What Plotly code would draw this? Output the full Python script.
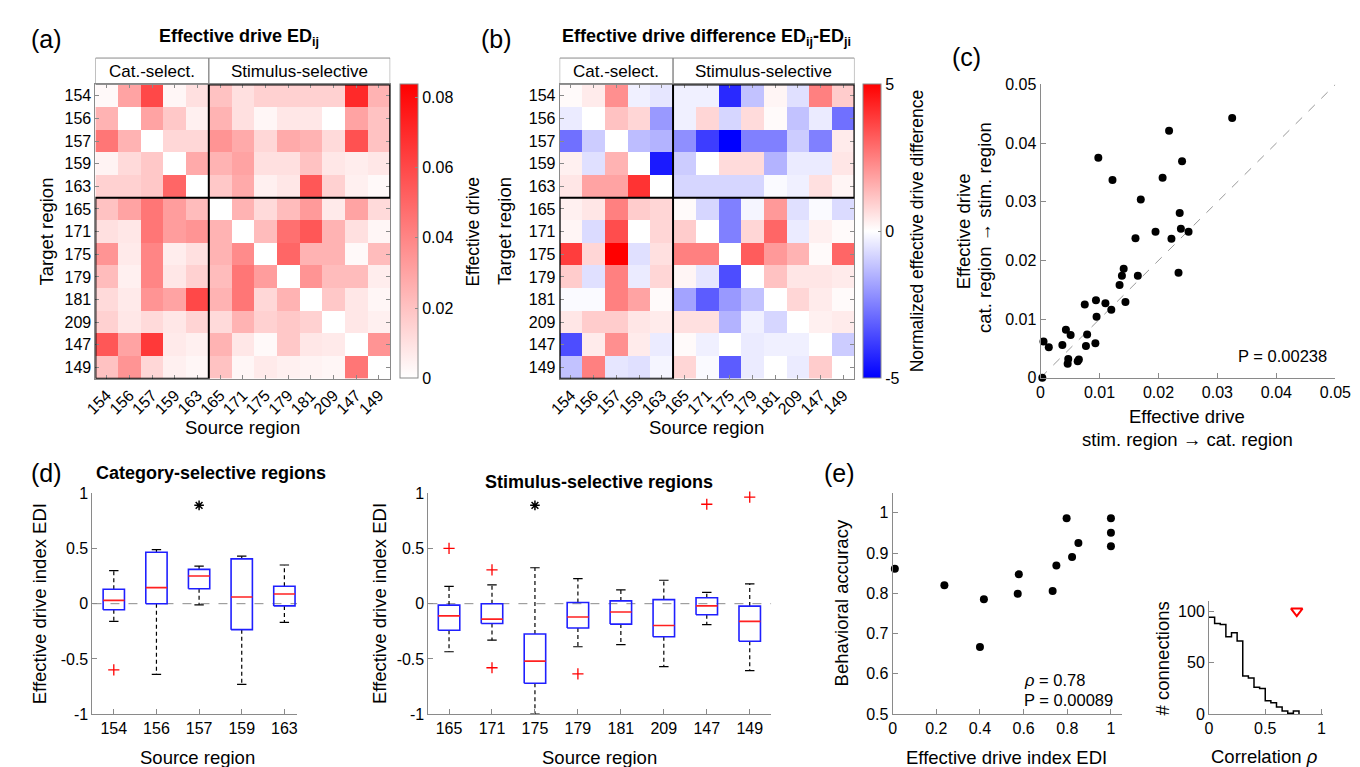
import plotly.graph_objects as go

W, H = 1360, 767
def fx(x): return x / W
def fy(y): return 1 - y / H

FONT = "Liberation Sans, Arial, sans-serif"
AX = "#8a8a8a"

regions = ['154', '156', '157', '159', '163', '165', '171', '175', '179', '181', '209', '147', '149']

# Panel (a): effective drive ED_ij (rows = target, cols = source)
ed = [
    [0.002, 0.030, 0.060, 0.003, 0.010, 0.020, 0.010, 0.015, 0.015, 0.015, 0.015, 0.070, 0.025],
    [0.025, 0.000, 0.030, 0.018, 0.005, 0.025, 0.010, 0.003, 0.008, 0.008, 0.000, 0.030, 0.020],
    [0.045, 0.025, 0.000, 0.013, 0.013, 0.035, 0.028, 0.013, 0.028, 0.025, 0.012, 0.057, 0.020],
    [0.004, 0.012, 0.018, 0.000, 0.028, 0.025, 0.030, 0.010, 0.010, 0.020, 0.008, 0.006, 0.008],
    [0.015, 0.015, 0.018, 0.050, 0.000, 0.018, 0.028, 0.005, 0.008, 0.055, 0.015, 0.005, 0.002],
    [0.020, 0.030, 0.045, 0.032, 0.022, 0.000, 0.025, 0.012, 0.022, 0.033, 0.007, 0.030, 0.012],
    [0.010, 0.008, 0.045, 0.032, 0.035, 0.025, 0.000, 0.022, 0.047, 0.055, 0.025, 0.010, 0.003],
    [0.035, 0.007, 0.040, 0.006, 0.010, 0.025, 0.038, 0.000, 0.050, 0.025, 0.025, 0.002, 0.022],
    [0.022, 0.005, 0.040, 0.008, 0.015, 0.022, 0.045, 0.032, 0.000, 0.035, 0.022, 0.022, 0.006],
    [0.012, 0.007, 0.035, 0.030, 0.060, 0.025, 0.045, 0.013, 0.025, 0.000, 0.018, 0.008, 0.003],
    [0.015, 0.008, 0.012, 0.008, 0.014, 0.012, 0.025, 0.015, 0.018, 0.015, 0.000, 0.008, 0.005],
    [0.055, 0.030, 0.065, 0.007, 0.005, 0.025, 0.008, 0.002, 0.018, 0.008, 0.007, 0.000, 0.035],
    [0.020, 0.035, 0.013, 0.005, 0.003, 0.020, 0.003, 0.007, 0.005, 0.004, 0.003, 0.045, 0.000],
]
ed_max = 0.0836

# Panel (b): normalized effective drive difference
edd = [
    [0.1, 0.4, 2.2, -0.3, -0.5, -0.3, -0.3, -4.2, -1.2, 0.2, -0.6, 2.5, 1.0],
    [-0.4, 0.0, 1.2, 0.8, -2.0, -0.3, 0.8, -0.8, 0.7, 0.1, -1.2, -0.4, -2.8],
    [-2.8, -1.0, 0.0, -1.3, -1.5, -2.2, -3.8, -5.0, -2.5, -2.5, -1.0, -2.5, 0.4],
    [0.3, -0.6, 1.5, 0.0, -4.5, -1.0, 0.0, 0.7, 0.7, -1.5, -0.4, -0.4, 0.5],
    [0.5, 1.8, 1.8, 4.0, 0.0, -0.8, -0.8, -0.8, -0.8, -0.1, -0.3, 0.6, 0.2],
    [0.3, 0.5, 2.5, 1.0, 0.8, 0.1, -0.8, -2.5, -0.2, 2.0, -0.6, -0.1, -0.7],
    [0.2, -0.7, 3.5, 0.0, 0.8, 1.0, 0.0, -2.5, 0.8, 3.0, -0.4, 0.3, 0.1],
    [3.8, 0.8, 5.0, -0.6, 0.6, 2.5, 2.5, 0.0, 3.2, 2.0, 1.5, 0.1, 3.0],
    [1.0, -0.6, 2.5, -0.4, 0.8, 0.2, -0.5, -3.5, 0.0, 1.2, 0.5, 0.5, 0.4],
    [-0.1, -0.1, 2.5, 1.8, 0.1, -1.8, -3.2, -2.0, -1.2, 0.0, 0.8, 0.4, 0.1],
    [0.5, 1.0, 1.0, 0.5, 0.4, 0.6, 0.6, -1.5, -0.3, -0.8, 0.0, 0.3, 0.4],
    [-3.5, 0.4, 2.2, 0.4, -0.4, 0.1, -0.3, 0.0, -0.4, -0.3, -0.3, 0.0, -1.0],
    [-1.2, 2.5, -0.5, -0.6, -0.2, 0.8, -0.1, -3.2, -0.4, 0.0, -0.4, 1.0, 0.0],
]

# Panel (c)
c_x = [0.0003, 0.0005, 0.0014, 0.0037, 0.0043, 0.0051, 0.0047, 0.0046, 0.0063, 0.0065,
       0.0075, 0.0079, 0.0077, 0.0093, 0.0094, 0.0095, 0.0098, 0.0110, 0.0120, 0.0122,
       0.0134, 0.0138, 0.0141, 0.0144, 0.0161, 0.0165, 0.0170, 0.0195, 0.0207, 0.0218,
       0.0222, 0.0234, 0.0236, 0.0238, 0.0240, 0.0251, 0.0325]
c_y = [0.0000, 0.0062, 0.0052, 0.0056, 0.0082, 0.0073, 0.0032, 0.0024, 0.0028, 0.0031,
       0.0125, 0.0074, 0.0054, 0.0059, 0.0132, 0.0104, 0.0375, 0.0127, 0.0116, 0.0337,
       0.0158, 0.0174, 0.0186, 0.0129, 0.0238, 0.0174, 0.0304, 0.0249, 0.0341, 0.0421,
       0.0237, 0.0179, 0.0281, 0.0254, 0.0369, 0.0249, 0.0443]

# Panel (d) left: category-selective
cat_regions = ['154', '156', '157', '159', '163']
cat_whi = [0.30, 0.49, 0.34, 0.43, 0.35]
cat_q3 = [0.13, 0.465, 0.31, 0.405, 0.158]
cat_med = [0.03, 0.145, 0.25, 0.06, 0.087]
cat_q1 = [-0.055, 0.0, 0.135, -0.235, -0.02]
cat_wlo = [-0.16, -0.64, -0.01, -0.73, -0.17]
cat_out_idx = [0]
cat_out_val = [-0.60]
cat_star_idx = [2]

# Panel (d) right: stimulus-selective
stim_regions = ['165', '171', '175', '179', '181', '209', '147', '149']
stim_whi = [0.157, 0.17, 0.325, 0.227, 0.124, 0.212, 0.103, 0.18]
stim_q3 = [-0.013, 0.0, -0.275, 0.01, 0.025, 0.037, 0.053, -0.022]
stim_med = [-0.11, -0.14, -0.52, -0.12, -0.075, -0.197, -0.02, -0.16]
stim_q1 = [-0.24, -0.18, -0.72, -0.22, -0.185, -0.30, -0.10, -0.34]
stim_wlo = [-0.435, -0.33, -1.0, -0.39, -0.37, -0.57, -0.19, -0.605]
stim_out_idx = [0, 1, 1, 3, 6, 7]
stim_out_val = [0.50, 0.306, -0.58, -0.635, 0.90, 0.965]
stim_star_idx = [2]
star_y = 0.89

# Panel (e)
e_x = [0.01, 0.237, 0.40, 0.418, 0.573, 0.578, 0.733, 0.75, 0.797, 0.822, 0.851, 1.0, 1.0, 1.0]
e_y = [0.861, 0.820, 0.667, 0.785, 0.799, 0.847, 0.806, 0.869, 0.986, 0.890, 0.925, 0.986, 0.950, 0.917]

# Inset histogram
hist_edges = [0.0, 0.05, 0.10, 0.15, 0.20, 0.25, 0.30, 0.35, 0.40, 0.45, 0.50, 0.55, 0.60, 0.65, 0.70, 0.75, 0.80]
hist_counts = [94, 88, 87, 75, 79, 71, 37, 35, 26, 25, 13, 11, 7, 3, 1, 3]
rho_obs = 0.78
rho_marker_y = 100

fig = go.Figure()

# ---------- heatmaps ----------
idx = list(range(len(regions)))
cbfont = dict(size=16, family=FONT, color='black')
fig.add_trace(go.Heatmap(
    z=ed, x=idx, y=idx, xaxis='x', yaxis='y', zmin=0, zmax=ed_max,
    colorscale=[[0, 'rgb(255,255,255)'], [1, 'rgb(255,0,0)']],
    colorbar=dict(x=fx(388), xanchor='left', y=fy(70), yanchor='top', len=301 / H, lenmode='fraction',
                  thickness=18, xpad=0, ypad=0, outlinewidth=1, outlinecolor=AX,
                  tickvals=[0, 0.02, 0.04, 0.06, 0.08], ticktext=['0', '0.02', '0.04', '0.06', '0.08'],
                  ticks='inside', ticklen=3, tickcolor=AX, tickfont=cbfont),
    hoverinfo='skip'))
fig.add_trace(go.Heatmap(
    z=edd, x=idx, y=idx, xaxis='x2', yaxis='y2', zmin=-5, zmax=5,
    colorscale=[[0, 'rgb(0,0,255)'], [0.5, 'rgb(255,255,255)'], [1, 'rgb(255,0,0)']],
    colorbar=dict(x=fx(861), xanchor='left', y=fy(70), yanchor='top', len=301 / H, lenmode='fraction',
                  thickness=18, xpad=0, ypad=0, outlinewidth=1, outlinecolor=AX,
                  tickvals=[-5, 0, 5], ticktext=['-5', '0', '5'],
                  ticks='inside', ticklen=3, tickcolor=AX, tickfont=cbfont),
    hoverinfo='skip'))

# ---------- scatter (c) ----------
fig.add_trace(go.Scatter(x=[0, 0.05], y=[0, 0.05], xaxis='x3', yaxis='y3', mode='lines',
                         line=dict(color='#999999', width=1, dash='dash'), hoverinfo='skip'))
fig.add_trace(go.Scatter(x=c_x, y=c_y, xaxis='x3', yaxis='y3', mode='markers',
                         marker=dict(color='black', size=8), cliponaxis=False))

# ---------- box plots (d) ----------
def add_boxes(xa, ya, whi, q3, med, q1, wlo, out_idx, out_val, star_idx, hw=0.25, cw=0.11):
    n = len(med)
    bx, by, mx, my, wx, wy, cx, cy = [], [], [], [], [], [], [], []
    for i in range(n):
        bx += [i - hw, i + hw, i + hw, i - hw, i - hw, None]
        by += [q1[i], q1[i], q3[i], q3[i], q1[i], None]
        mx += [i - hw, i + hw, None]
        my += [med[i], med[i], None]
        wx += [i, i, None, i, i, None]
        wy += [q3[i], whi[i], None, q1[i], wlo[i], None]
        cx += [i - cw, i + cw, None, i - cw, i + cw, None]
        cy += [whi[i], whi[i], None, wlo[i], wlo[i], None]
    fig.add_trace(go.Scatter(x=wx, y=wy, xaxis=xa, yaxis=ya, mode='lines',
                             line=dict(color='black', width=1.2, dash='4px,3px'), cliponaxis=False))
    fig.add_trace(go.Scatter(x=cx, y=cy, xaxis=xa, yaxis=ya, mode='lines',
                             line=dict(color='black', width=1.2), cliponaxis=False))
    fig.add_trace(go.Scatter(x=bx, y=by, xaxis=xa, yaxis=ya, mode='lines',
                             line=dict(color='#1f1fff', width=1.6), cliponaxis=False))
    fig.add_trace(go.Scatter(x=mx, y=my, xaxis=xa, yaxis=ya, mode='lines',
                             line=dict(color='#ff2020', width=1.6), cliponaxis=False))
    fig.add_trace(go.Scatter(x=out_idx, y=out_val, xaxis=xa, yaxis=ya, mode='markers',
                             marker=dict(symbol='cross-thin', size=8, color='red',
                                         line=dict(color='red', width=1.3)),
                             cliponaxis=False))
    fig.add_trace(go.Scatter(x=star_idx, y=[star_y] * len(star_idx), xaxis=xa, yaxis=ya, mode='markers',
                             marker=dict(symbol='asterisk', size=8, color='black',
                                         line=dict(color='black', width=1.5)),
                             cliponaxis=False))

add_boxes('x4', 'y4', cat_whi, cat_q3, cat_med, cat_q1, cat_wlo, cat_out_idx, cat_out_val, cat_star_idx)
add_boxes('x5', 'y5', stim_whi, stim_q3, stim_med, stim_q1, stim_wlo, stim_out_idx, stim_out_val, stim_star_idx)

# ---------- scatter (e) ----------
fig.add_trace(go.Scatter(x=e_x, y=e_y, xaxis='x6', yaxis='y6', mode='markers',
                         marker=dict(color='black', size=8), cliponaxis=False))

# ---------- histogram inset ----------
fig.add_trace(go.Scatter(x=hist_edges, y=hist_counts + [0], xaxis='x7', yaxis='y7', mode='lines',
                         line=dict(color='black', width=1.5, shape='hv'), cliponaxis=False))
fig.add_trace(go.Scatter(x=[rho_obs], y=[rho_marker_y], xaxis='x7', yaxis='y7', mode='markers',
                         marker=dict(symbol='triangle-down-open', size=10, color='red',
                                     line=dict(color='red', width=2)),
                         cliponaxis=False))

# ---------- axes ----------
tickfont = dict(size=16, family=FONT, color='black')
hm_tickfont = dict(size=16, family=FONT, color='black')

def hm_axes(x0, x1):
    xa = dict(domain=[fx(x0), fx(x1)], range=[-0.5, 12.5], tickvals=idx, ticktext=regions, tickangle=-45,
              showline=True, linecolor=AX, linewidth=1, mirror='ticks', ticks='inside', ticklen=4,
              tickcolor=AX, tickfont=hm_tickfont, showgrid=False, zeroline=False, fixedrange=True)
    ya = dict(domain=[fy(371), fy(70)], range=[12.5, -0.5], tickvals=idx, ticktext=regions,
              showline=True, linecolor=AX, linewidth=1, mirror='ticks', ticks='inside', ticklen=4,
              tickcolor=AX, tickfont=hm_tickfont, showgrid=False, zeroline=False, fixedrange=True)
    return xa, ya

xa1, ya1 = hm_axes(77, 378)
xa2, ya2 = hm_axes(551, 852)
ya1['anchor'] = 'x'; xa1['anchor'] = 'y'
ya2['anchor'] = 'x2'; xa2['anchor'] = 'y2'

def plain_axis(dom, rng, tv, tt, anchor, tf=tickfont):
    d = dict(domain=dom, range=rng, tickvals=tv, ticktext=tt, showline=True, linecolor=AX, linewidth=1,
             ticks='inside', ticklen=5, tickcolor=AX, tickfont=tf, showgrid=False, zeroline=False,
             anchor=anchor, fixedrange=True)
    return d

c_ticks = [0, 0.01, 0.02, 0.03, 0.04, 0.05]
c_tt = ['0', '0.01', '0.02', '0.03', '0.04', '0.05']
box_yt = [-1, -0.5, 0, 0.5, 1]
box_ytt = ['-1', '-0.5', '0', '0.5', '1']

fig.update_layout(
    xaxis=xa1, yaxis=ya1, xaxis2=xa2, yaxis2=ya2,
    xaxis3=plain_axis([fx(1042), fx(1343)], [0, 0.05], c_ticks, c_tt, 'y3'),
    yaxis3=plain_axis([fy(370), fy(70)], [0, 0.05], c_ticks, c_tt, 'x3'),
    xaxis4=plain_axis([fx(74), fx(283)], [-0.5, 4.3], list(range(len(cat_regions))), cat_regions, 'y4'),
    yaxis4=plain_axis([fy(714), fy(488)], [-1, 1], box_yt, box_ytt, 'x4'),
    xaxis5=plain_axis([fx(417), fx(767)], [-0.48, 7.5], list(range(len(stim_regions))), stim_regions, 'y5'),
    yaxis5=plain_axis([fy(714), fy(488)], [-1, 1], box_yt, box_ytt, 'x5'),
    xaxis6=plain_axis([fx(891), fx(1125)], [0, 1.05], [0, 0.2, 0.4, 0.6, 0.8, 1],
                      ['0', '0.2', '0.4', '0.6', '0.8', '1'], 'y6'),
    yaxis6=plain_axis([fy(714), fy(488)], [0.5, 1.0485], [0.5, 0.6, 0.7, 0.8, 0.9, 1],
                      ['0.5', '0.6', '0.7', '0.8', '0.9', '1'], 'x6'),
    xaxis7=plain_axis([fx(1214), fx(1330)], [0, 1.01], [0, 0.5, 1], ['0', '0.5', '1'], 'y7'),
    yaxis7=plain_axis([fy(714), fy(598)], [0, 110], [0, 50, 100], ['0', '50', '100'], 'x7'),
)

# ---------- shapes ----------
shapes = []
for xr, yr in [('x', 'y'), ('x2', 'y2')]:
    shapes.append(dict(type='rect', xref=xr, yref='paper', x0=-0.5, x1=4.5, y0=fy(70), y1=fy(43),
                       line=dict(color=AX, width=1)))
    shapes.append(dict(type='rect', xref=xr, yref='paper', x0=4.5, x1=12.5, y0=fy(70), y1=fy(43),
                       line=dict(color=AX, width=1)))
    shapes.append(dict(type='rect', xref=xr, yref=yr, x0=4.5, x1=12.5, y0=-0.5, y1=4.5,
                       line=dict(color='black', width=2)))
    shapes.append(dict(type='rect', xref=xr, yref=yr, x0=-0.5, x1=4.5, y0=4.5, y1=12.5,
                       line=dict(color='black', width=2)))
shapes.append(dict(type='line', xref='x4', yref='y4', x0=-0.5, x1=4.3, y0=0, y1=0,
                   line=dict(color='#8c8c8c', width=1, dash='dash'), layer='below'))
shapes.append(dict(type='line', xref='x5', yref='y5', x0=-0.48, x1=7.5, y0=0, y1=0,
                   line=dict(color='#8c8c8c', width=1, dash='dash'), layer='below'))
fig.update_layout(shapes=shapes)

# ---------- annotations ----------
ann = []
def txt(x, y, s, size=16, bold=False, xanchor='center', yanchor='middle', angle=0, color='black'):
    if bold:
        s = '<b>' + s + '</b>'
    ann.append(dict(x=fx(x), y=fy(y), xref='paper', yref='paper', text=s, showarrow=False,
                    xanchor=xanchor, yanchor=yanchor, textangle=angle,
                    font=dict(size=size, family=FONT, color=color)))

for lab, x, y in [('(a)', 9, 24), ('(b)', 469, 24), ('(c)', 950, 42), ('(d)', 9, 467), ('(e)', 819, 467)]:
    txt(x, y, lab, size=25, xanchor='left')

txt(224, 22, 'Effective drive ED<sub>ij</sub>', size=18, bold=True)
txt(701, 22, 'Effective drive difference ED<sub>ij</sub>-ED<sub>ji</sub>', size=18, bold=True)
for x0 in (77, 551):
    cw = 301 / 13
    txt(x0 + 2.5 * cw, 57, 'Cat.-select.', size=17)
    txt(x0 + 9 * cw, 57, 'Stimulus-selective', size=17)
txt(27, 220, 'Target region', size=18.5, angle=-90)
txt(494, 220, 'Target region', size=18.5, angle=-90)
txt(227, 421, 'Source region', size=18.5)
txt(701, 421, 'Source region', size=18.5)
txt(463, 220, 'Effective drive', size=17.5, angle=-90)
txt(916, 220, 'Normalized effective drive difference', size=17.5, angle=-90)

txt(963, 220, 'Effective drive', size=18.5, angle=-90)
txt(984, 216, 'cat. region → stim. region', size=18.5, angle=-90)
txt(1192, 410, 'Effective drive', size=18.5)
txt(1192, 433, 'stim. region → cat. region', size=18.5)
txt(1337, 348, 'P = 0.00238', size=16.5, xanchor='right')

txt(195, 467, 'Category-selective regions', size=18, bold=True)
txt(591, 477, 'Stimulus-selective regions', size=18, bold=True)
txt(20, 601, 'Effective drive index EDI', size=18.5, angle=-90)
txt(367, 601, 'Effective drive index EDI', size=18.5, angle=-90)
txt(181, 758, 'Source region', size=18.5)
txt(592, 758, 'Source region', size=18.5)

txt(839, 600, 'Behavioral accuracy', size=18.5, angle=-90)
txt(1007, 758, 'Effective drive index EDI', size=18.5)
txt(1023, 679, '<i>ρ</i> = 0.78', size=16.5, xanchor='left')
txt(1023, 699, 'P = 0.00089', size=16.5, xanchor='left')
txt(1166, 657, '# connections', size=18.5, angle=-90)
txt(1271, 757, 'Correlation <i>ρ</i>', size=18.5)

fig.update_layout(annotations=ann)

fig.update_layout(width=W, height=H, autosize=False, margin=dict(l=0, r=0, t=0, b=0, pad=0),
                  plot_bgcolor='white', paper_bgcolor='white', showlegend=False,
                  font=dict(family=FONT, color='black'))

fig.write_html("out.html")
